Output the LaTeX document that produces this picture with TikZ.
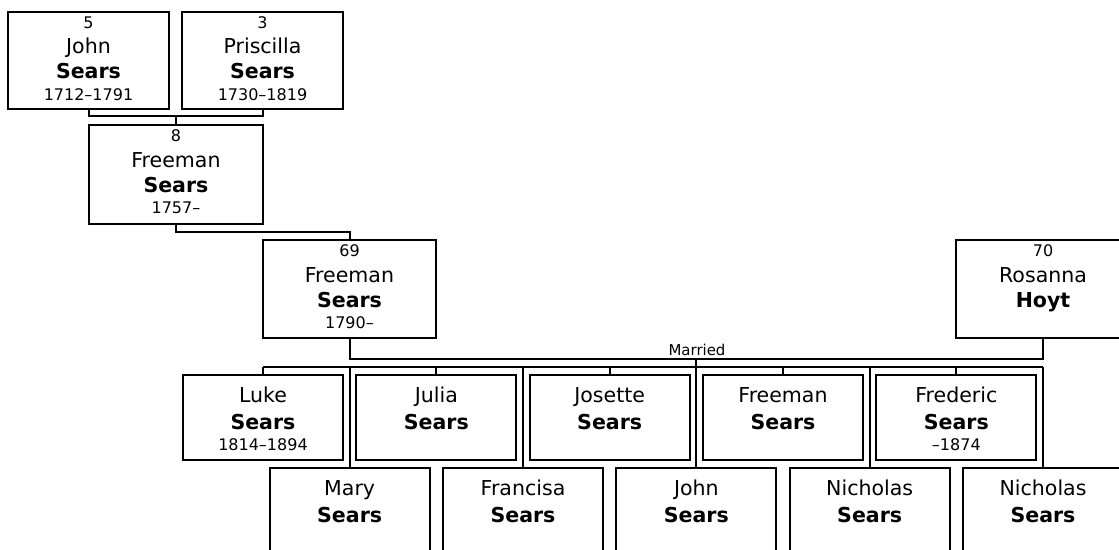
\documentclass[tikz,border=0pt]{standalone}
\usepackage{fontspec}
\setmainfont{DejaVu Sans}
\usetikzlibrary{calc}
\newdimen\PX \PX=0.75pt
\newcommand\bl[2]{\nointerlineskip\vbox to #1\PX{\vfil\hbox to\hsize{\hss\smash{#2}\hss}}}
\newcommand\numf{\fontsize{12}{14}\selectfont}
\newcommand\namef{\fontsize{15.4}{18}\selectfont}
\newcommand\lastf{\fontsize{15.4}{18}\selectfont\bfseries}
% width, height, number, first name, last name, dates
\newcommand\tbox[6]{\vbox to #2\PX{\hsize=#1\PX\bl{16.5}{\numf #3}\bl{25.5}{\namef #4}\bl{25}{\lastf #5}\bl{21.5}{\numf #6}\vfil}}
% first name, last name, dates
\newcommand\kbox[3]{\vbox to 85\PX{\hsize=160\PX\bl{27.5}{\namef #1}\bl{26.5}{\lastf #2}\bl{21}{\numf #3}\vfil}}
\tikzset{
  pbox/.style={draw=black, line width=1.5pt, fill=white, inner sep=0pt, outer sep=0pt, text=black},
  conn/.style={draw=black, line width=1.5pt, line join=miter},
  marr/.style={font=\fontsize{11.2}{13}\selectfont, inner sep=0pt, text=black}
}
\begin{document}
\begin{tikzpicture}[x=0.75pt, y=-0.75pt]
\useasboundingbox (0,0) rectangle (1119,549);
\clip (0,0) rectangle (1119,549);
% levels of the connector lines
\coordinate (jp) at (0,116);
\coordinate (kk) at (0,232);
\coordinate (mline) at (0,359);
\coordinate (barL) at (0,367);
% ancestors
\node[pbox] (john) at (88.5,60.5) {\tbox{161}{97}{5}{John}{Sears}{1712–1791}};
\node[pbox] (pris) at (262.5,60.5) {\tbox{161}{97}{3}{Priscilla}{Sears}{1730–1819}};
\node[pbox] (f8) at (176,174.5) {\tbox{174}{99}{8}{Freeman}{Sears}{1757–}};
\node[pbox] (f69) at (349.5,289) {\tbox{173}{98}{69}{Freeman}{Sears}{1790–}};
\node[pbox] (ros) at (1043,289) {\tbox{174}{98}{70}{Rosanna}{Hoyt}{}};
% children
\node[pbox] (luke) at (263,417.5) {\kbox{Luke}{Sears}{1814–1894}};
\node[pbox] (mary) at (349.67,510.5) {\kbox{Mary}{Sears}{}};
\node[pbox] (julia) at (436.33,417.5) {\kbox{Julia}{Sears}{}};
\node[pbox] (francisa) at (523,510.5) {\kbox{Francisa}{Sears}{}};
\node[pbox] (josette) at (609.67,417.5) {\kbox{Josette}{Sears}{}};
\node[pbox] (johnb) at (696.33,510.5) {\kbox{John}{Sears}{}};
\node[pbox] (freemanb) at (783,417.5) {\kbox{Freeman}{Sears}{}};
\node[pbox] (nicha) at (869.67,510.5) {\kbox{Nicholas}{Sears}{}};
\node[pbox] (frederic) at (956.33,417.5) {\kbox{Frederic}{Sears}{–1874}};
\node[pbox] (nichb) at (1043,510.5) {\kbox{Nicholas}{Sears}{}};
% parents of Freeman (8)
\draw[conn] (john.south) -- (john.south |- jp) -- (pris.south |- jp) -- (pris.south);
\draw[conn] (f8.north |- jp) -- (f8.north);
% Freeman (8) to Freeman (69)
\draw[conn] (f8.south) -- (f8.south |- kk) -- (f69.north |- kk) -- (f69.north);
% marriage
\draw[conn] (f69.south) -- (f69.south |- mline) -- (ros.south |- mline) -- (ros.south);
\coordinate (mid) at ($(f69.south |- mline)!0.5!(ros.south |- mline)$);
\node[marr, anchor=base] (married) at (697,355) {Married};
\draw[conn] (mid) -- (mid |- barL);
% children bar
\draw[conn] (luke.north |- barL) -- (nichb.north |- barL);
\foreach \c in {luke,mary,julia,francisa,josette,johnb,freemanb,nicha,frederic,nichb}{
  \draw[conn] (\c.north |- barL) -- (\c.north);
}
\end{tikzpicture}
\end{document}
